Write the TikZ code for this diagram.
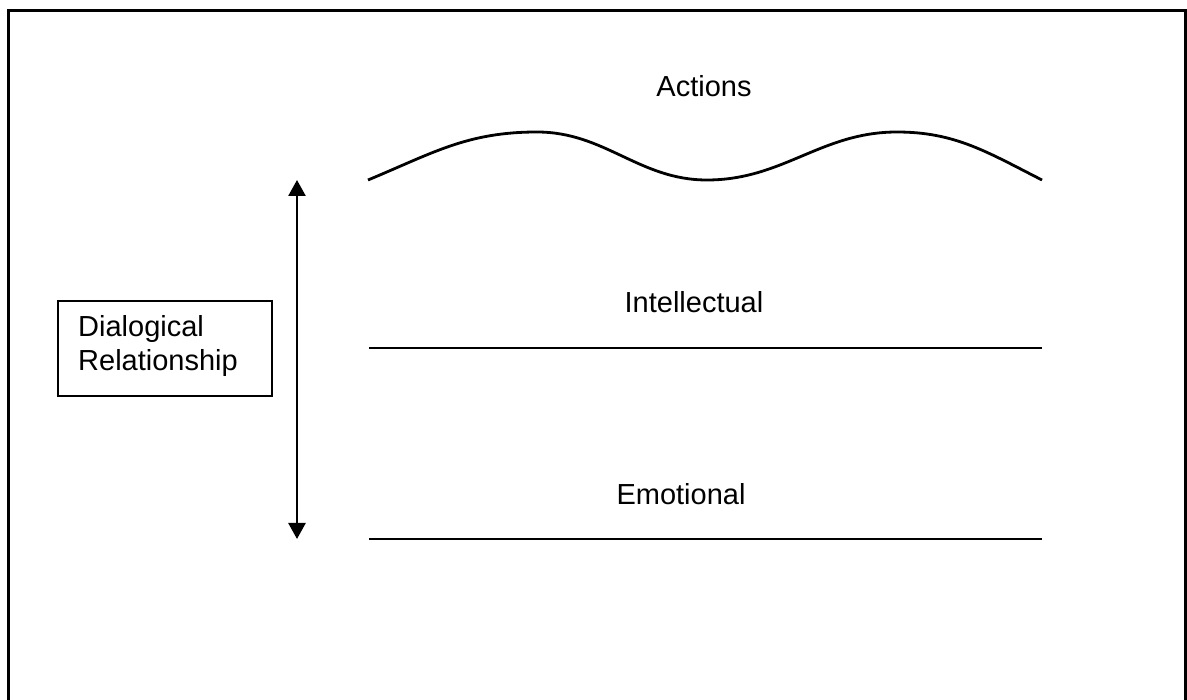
\documentclass[tikz,border=0pt]{standalone}
\usepackage{fontspec}
\setmainfont{Liberation Sans}
\usetikzlibrary{arrows.meta}
\tikzset{
  lbl/.style={font=\fontsize{29}{34}\selectfont, inner sep=0pt, anchor=base},
  rule/.style={line width=2.6pt},
  boxframe/.style={draw, line width=2.4pt, minimum width=214pt, minimum height=95pt, inner sep=0pt},
  dblarrow/.style={line width=2.6pt, {Triangle[width=17pt,length=16pt]}-{Triangle[width=17pt,length=16pt]}},
}
\begin{document}
\begin{tikzpicture}[x=1pt,y=-1pt]
\useasboundingbox (0,0) rectangle (1187,700);
\begin{scope}
\clip (0,0) rectangle (1187,700);
\draw[line width=3pt] (8,10.7) rectangle (1185.5,720);
\end{scope}
% labels
\node[lbl] (act) at (704,97) {Actions};
\node[lbl] (int) at (694,313) {Intellectual};
\node[lbl] (emo) at (681,505) {Emotional};
% box
\node[boxframe] (dr) at (165,348.5) {};
\node[lbl, anchor=base west, align=left] (drtext) at (78,371) {Dialogical\\Relationship};
% wave
\coordinate (w0) at (368,180);
\coordinate (w1) at (537,132);
\coordinate (w2) at (707,180);
\coordinate (w3) at (897,132);
\coordinate (w4) at (1042,180);
\draw[line width=2.8pt] (w0) .. controls (433,153) and (467,132) .. (w1)
  .. controls (605,132) and (639,180) .. (w2)
  .. controls (783,180) and (821,132) .. (w3)
  .. controls (955,132) and (987,152) .. (w4);
% lines
\coordinate (i0) at (369,348);
\coordinate (i1) at (1042,348);
\coordinate (e0) at (369,539);
\coordinate (e1) at (1042,539);
\draw[rule] (i0) -- (i1);
\draw[rule] (e0) -- (e1);
% arrow
\coordinate (atop) at (297,180);
\coordinate (abot) at (297,539);
\draw[dblarrow] (atop) -- (abot);
\end{tikzpicture}
\end{document}
